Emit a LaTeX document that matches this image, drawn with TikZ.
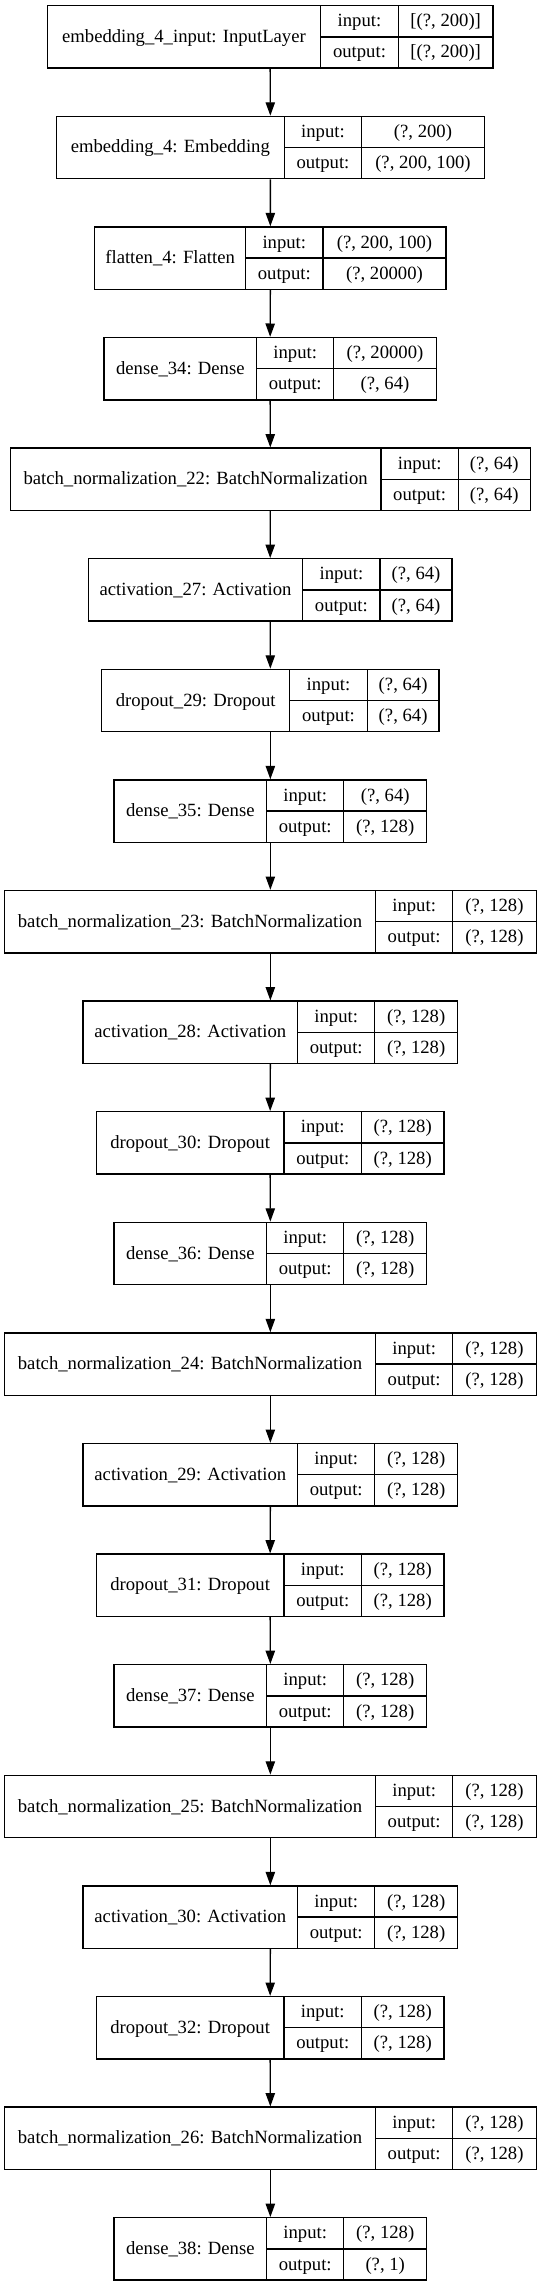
\documentclass[tikz,border=0pt]{standalone}
\usepackage{fontspec}
\setmainfont{Liberation Serif}
\usetikzlibrary{fit,arrows.meta}
\tikzset{
  layerbox/.style={draw, line width=1pt, inner sep=0pt, rectangle},
  celltext/.style={anchor=base, inner sep=0pt, font=\fontsize{14}{17}\selectfont},
  cellrule/.style={line width=1pt},
  flow/.style={line width=1pt, -{Triangle[length=10pt,width=7pt]}},
}
% #1 id, #2 top, #3 left, #4 div1, #5 div2, #6 right, #7 name, #8 input, #9 output
\newcommand{\kerasLayer}[9]{%
  \node[layerbox, fit={(#3,#2) (#6,#2+62.4)}] (#1) {};
  \draw[cellrule] (#4,#2) -- (#4,#2+62.4);
  \draw[cellrule] (#5,#2) -- (#5,#2+62.4);
  \draw[cellrule] (#4,#2+31.2) -- (#6,#2+31.2);
  \node[celltext] (#1n) at ({(#3+#4)/2},#2+36.7) {#7};
  \node[celltext] (#1a) at ({(#4+#5)/2},#2+21.1) {input:};
  \node[celltext] (#1b) at ({(#4+#5)/2},#2+52.3) {output:};
  \node[celltext] (#1c) at ({(#5+#6)/2},#2+21.1) {#8};
  \node[celltext] (#1d) at ({(#5+#6)/2},#2+52.3) {#9};
}
\begin{document}
\begin{tikzpicture}[x=0.75pt,y=-0.75pt]
\fill[white] (0,0) rectangle (541,2287);
\useasboundingbox (0,0) rectangle (541,2287);
\kerasLayer{L1}{5.7}{47.2}{320.7}{398.3}{493.1}{embedding\_4\_input: InputLayer}{[(?, 200)]}{[(?, 200)]}
\kerasLayer{L2}{116.3}{56.2}{284.5}{361.4}{484.5}{embedding\_4: Embedding}{(?, 200)}{(?, 200, 100)}
\kerasLayer{L3}{226.9}{94.8}{245.5}{323.1}{445.9}{flatten\_4: Flatten}{(?, 200, 100)}{(?, 20000)}
\kerasLayer{L4}{337.5}{104.1}{256.6}{333.8}{436.2}{dense\_34: Dense}{(?, 20000)}{(?, 64)}
\kerasLayer{L5}{448.1}{10.3}{381.0}{458.3}{530.3}{batch\_normalization\_22: BatchNormalization}{(?, 64)}{(?, 64)}
\kerasLayer{L6}{558.7}{88.3}{302.8}{380.0}{452.1}{activation\_27: Activation}{(?, 64)}{(?, 64)}
\kerasLayer{L7}{669.3}{101.7}{289.7}{367.2}{439.0}{dropout\_29: Dropout}{(?, 64)}{(?, 64)}
\kerasLayer{L8}{779.9}{114.1}{266.6}{343.8}{426.6}{dense\_35: Dense}{(?, 64)}{(?, 128)}
\kerasLayer{L9}{890.5}{4.5}{375.5}{452.8}{536.2}{batch\_normalization\_23: BatchNormalization}{(?, 128)}{(?, 128)}
\kerasLayer{L10}{1001.1}{83.1}{297.6}{374.8}{457.6}{activation\_28: Activation}{(?, 128)}{(?, 128)}
\kerasLayer{L11}{1111.7}{96.2}{284.1}{361.4}{444.1}{dropout\_30: Dropout}{(?, 128)}{(?, 128)}
\kerasLayer{L12}{1222.3}{114.1}{266.6}{343.8}{426.6}{dense\_36: Dense}{(?, 128)}{(?, 128)}
\kerasLayer{L13}{1332.9}{4.5}{375.5}{452.8}{536.2}{batch\_normalization\_24: BatchNormalization}{(?, 128)}{(?, 128)}
\kerasLayer{L14}{1443.5}{83.1}{297.6}{374.8}{457.6}{activation\_29: Activation}{(?, 128)}{(?, 128)}
\kerasLayer{L15}{1554.1}{96.2}{284.1}{361.4}{444.1}{dropout\_31: Dropout}{(?, 128)}{(?, 128)}
\kerasLayer{L16}{1664.7}{114.1}{266.6}{343.8}{426.6}{dense\_37: Dense}{(?, 128)}{(?, 128)}
\kerasLayer{L17}{1775.3}{4.5}{375.5}{452.8}{536.2}{batch\_normalization\_25: BatchNormalization}{(?, 128)}{(?, 128)}
\kerasLayer{L18}{1885.9}{83.1}{297.6}{374.8}{457.6}{activation\_30: Activation}{(?, 128)}{(?, 128)}
\kerasLayer{L19}{1996.5}{96.2}{284.1}{361.4}{444.1}{dropout\_32: Dropout}{(?, 128)}{(?, 128)}
\kerasLayer{L20}{2107.1}{4.5}{375.5}{452.8}{536.2}{batch\_normalization\_26: BatchNormalization}{(?, 128)}{(?, 128)}
\kerasLayer{L21}{2217.7}{114.1}{266.6}{343.8}{426.6}{dense\_38: Dense}{(?, 128)}{(?, 1)}
\foreach \a/\b in {1/2,2/3,3/4,4/5,5/6,6/7,7/8,8/9,9/10,10/11,11/12,12/13,13/14,14/15,15/16,16/17,17/18,18/19,19/20,20/21}
  \draw[flow] (L\a.south) -- (L\b.north);
\end{tikzpicture}
\end{document}
